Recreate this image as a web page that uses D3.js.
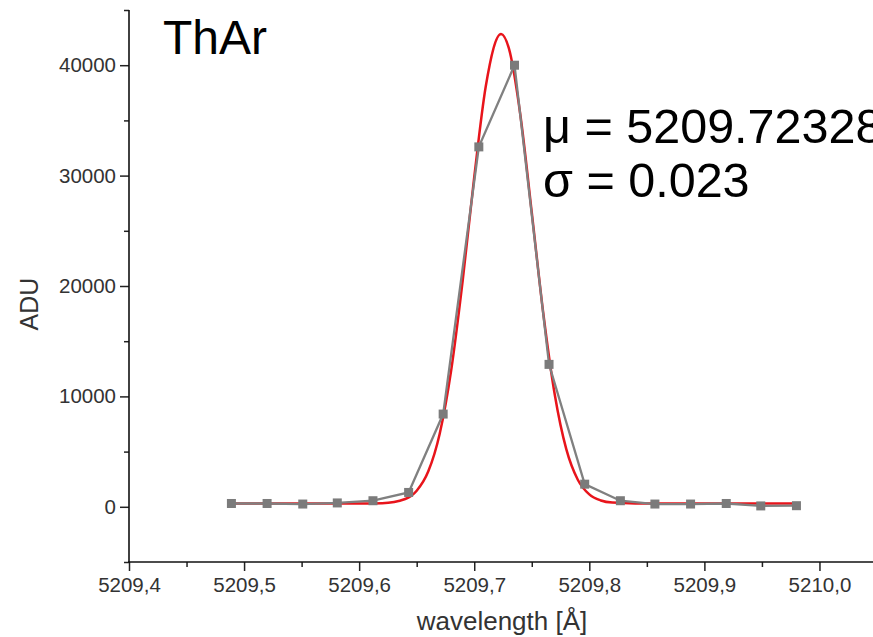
<!DOCTYPE html>
<html>
<head>
<meta charset="utf-8">
<script src="https://cdn.jsdelivr.net/npm/d3@7"></script>
<style>
  body { margin: 0; background: #fff; }
  svg { display: block; font-family: "Liberation Sans", Arial, sans-serif; }
</style>
</head>
<body>
<svg id="chart" width="873" height="637"></svg>
<script>
// measured points (gray squares)
const wavelength = [5209.489, 5209.520, 5209.551, 5209.581, 5209.612, 5209.643, 5209.673, 5209.704,
  5209.735, 5209.765, 5209.796, 5209.827, 5209.857, 5209.888, 5209.919, 5209.949, 5209.980];
const adu = [300, 300, 250, 350, 550, 1300, 8400, 32600, 40000, 12900, 2050, 550, 250, 250, 300, 80, 100];

// gaussian fit (red)
const fitX = [5209.489, 5209.55, 5209.60, 5209.62, 5209.64, 5209.65, 5209.66, 5209.67, 5209.68,
  5209.69, 5209.70, 5209.71, 5209.7233, 5209.73, 5209.74, 5209.75, 5209.76, 5209.77, 5209.78,
  5209.79, 5209.80, 5209.81, 5209.82, 5209.84, 5209.90, 5209.980];
const fitY = [300, 300, 300, 330, 710, 1460, 3190, 6620, 12390, 20510, 29860, 38070, 42830, 41570,
  35560, 26670, 17530, 10150, 5220, 2450, 1120, 575, 380, 310, 300, 300];

const xMajor = [5209.4, 5209.5, 5209.6, 5209.7, 5209.8, 5209.9, 5210.0];
const xMinor = [5209.45, 5209.55, 5209.65, 5209.75, 5209.85, 5209.95, 5210.05];
const yMajor = [0, 10000, 20000, 30000, 40000];
const yMinor = [-5000, 5000, 15000, 25000, 35000, 45000];

const svg = d3.select("#chart");

const x = d3.scaleLinear().domain([5209.4, 5210.05]).range([129, 877]);
const y = d3.scaleLinear().domain([-5000, 45000]).range([562, 10]);

// x axis
const xAxis = svg.append("g").attr("transform", "translate(0,562)");
xAxis.call(d3.axisBottom(x).tickValues(xMinor).tickSize(5).tickFormat(""));
xAxis.append("g").call(d3.axisBottom(x).tickValues(xMajor).tickSize(9).tickPadding(6)
  .tickFormat(d => d3.format(".1f")(d).replace(".", ",")));
xAxis.selectAll(".domain").remove();
xAxis.append("line").attr("x1", 128).attr("x2", 873).attr("stroke", "#111").attr("stroke-width", 1.6);

// y axis
const yAxis = svg.append("g").attr("transform", "translate(129,0)");
yAxis.call(d3.axisLeft(y).tickValues(yMinor).tickSize(5).tickFormat(""));
yAxis.append("g").call(d3.axisLeft(y).tickValues(yMajor).tickSize(9).tickPadding(4)
  .tickFormat(d3.format("d")));
yAxis.selectAll(".domain").remove();
yAxis.append("line").attr("y1", 10).attr("y2", 562.8).attr("stroke", "#111").attr("stroke-width", 1.6);

svg.selectAll(".tick line").attr("stroke", "#222").attr("stroke-width", 1.5);
svg.selectAll(".tick text").attr("fill", "#333").style("font-size", "20.5px")
  .style("font-family", "'Liberation Sans', Arial, sans-serif");

// axis titles
svg.append("text").attr("x", 502).attr("y", 630).attr("text-anchor", "middle")
  .attr("fill", "#333").style("font-size", "26px").text("wavelength [Å]");
svg.append("text").attr("transform", "translate(38,304) rotate(-90)").attr("text-anchor", "middle")
  .attr("fill", "#333").style("font-size", "25px").text("ADU");

// fit curve
const fitLine = d3.line().x(d => x(d[0])).y(d => y(d[1])).curve(d3.curveMonotoneX);
svg.append("path").datum(d3.zip(fitX, fitY)).attr("d", fitLine)
  .attr("fill", "none").attr("stroke", "#e8141b").attr("stroke-width", 2.5);

// data line + squares
const dataLine = d3.line().x(d => x(d[0])).y(d => y(d[1]));
const pts = d3.zip(wavelength, adu);
svg.append("path").datum(pts).attr("d", dataLine)
  .attr("fill", "none").attr("stroke", "#808080").attr("stroke-width", 2.3);
svg.selectAll(".pt").data(pts).enter().append("rect").attr("class", "pt")
  .attr("x", d => x(d[0]) - 4.5).attr("y", d => y(d[1]) - 4.5)
  .attr("width", 9).attr("height", 9).attr("fill", "#7b7b7b");

// annotations
svg.append("text").attr("x", 163).attr("y", 54).attr("fill", "#000")
  .style("font-size", "48px").text("ThAr");
svg.append("text").attr("x", 543).attr("y", 143).attr("fill", "#000")
  .style("font-size", "48.5px").text("μ = 5209.72328");
svg.append("text").attr("x", 543).attr("y", 197).attr("fill", "#000")
  .style("font-size", "48.5px").text("σ = 0.023");
</script>
</body>
</html>
